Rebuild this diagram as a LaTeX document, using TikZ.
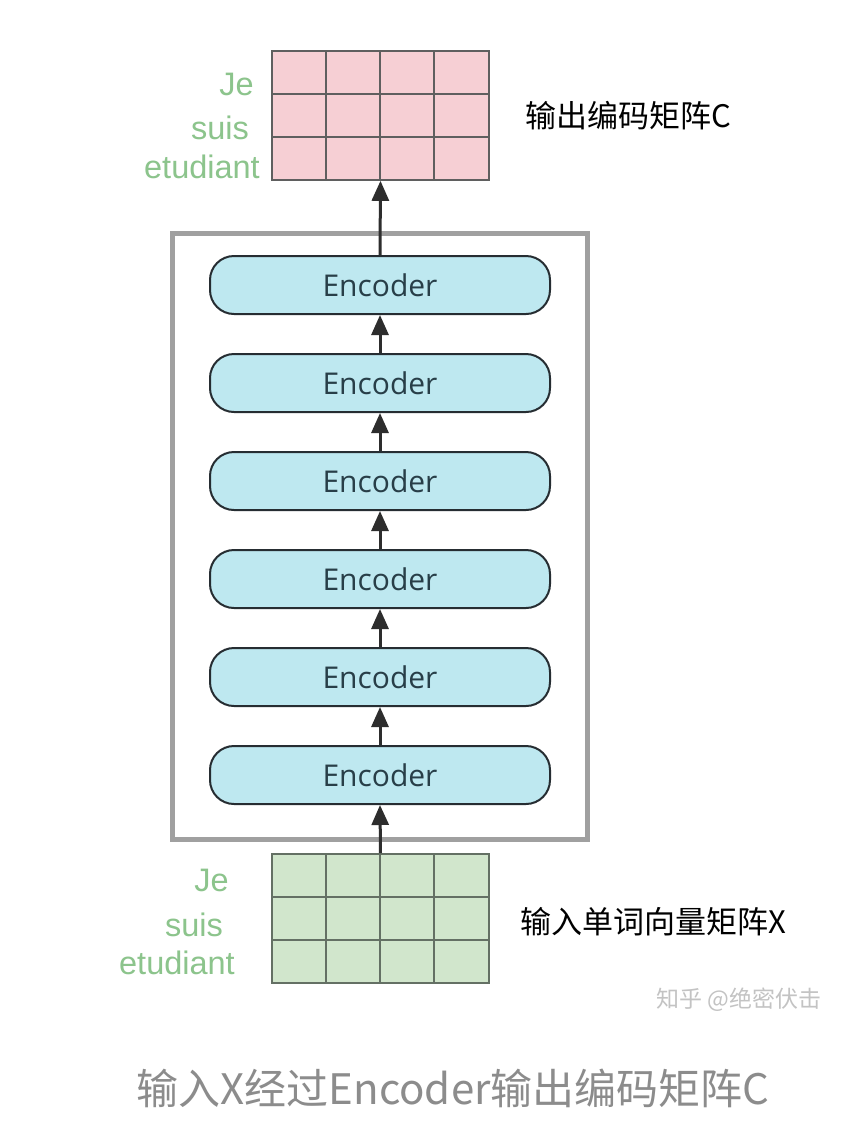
\documentclass[tikz,border=0pt]{standalone}
\usepackage{fontspec}
\setmainfont{Liberation Sans}
\newfontfamily\cjk{Noto Sans CJK SC}
\newfontfamily\encfont{Open Sans}
\usetikzlibrary{arrows.meta}
\definecolor{pinkfill}{RGB}{246,207,212}
\definecolor{greenfill}{RGB}{209,230,204}
\definecolor{gridline}{RGB}{95,95,95}
\definecolor{gridlineg}{RGB}{100,112,100}
\definecolor{encfill}{RGB}{190,232,240}
\definecolor{encline}{RGB}{38,45,50}
\definecolor{enctext}{RGB}{40,62,72}
\definecolor{wordgreen}{RGB}{140,196,140}
\definecolor{framegray}{RGB}{160,160,160}
\definecolor{arrowc}{RGB}{45,45,45}
\definecolor{capgray}{RGB}{140,140,140}
\definecolor{wmgray}{RGB}{195,195,195}
\tikzset{
  encbox/.style={draw=encline, line width=2pt, fill=encfill, rounded corners=24pt,
    minimum width=340pt, minimum height=58pt, inner sep=0pt,
    font=\encfont\fontsize{30}{34}\selectfont, text=enctext},
  matbox/.style={draw=#1, line width=1.6pt, minimum width=217pt, minimum height=129pt, inner sep=0pt},
  word/.style={anchor=east, text=wordgreen, font=\fontsize{32.5}{36}\selectfont, inner sep=0pt},
  arr/.style={draw=arrowc, line width=3pt, -{Triangle[width=17pt,length=20pt]}, arrowc},
  sidelabel/.style={anchor=west, inner sep=0pt, font=\cjk\fontsize{31}{36}\selectfont, text=black}
}
\begin{document}
\begin{tikzpicture}[x=1pt,y=-1pt]
\useasboundingbox[fill=white] (0,0) rectangle (866,1128);

% frame
\node[draw=framegray, line width=5pt, minimum width=415pt, minimum height=606pt, inner sep=0pt] (frame) at (380,536) {};

% output matrix C
\node[matbox=gridline, fill=pinkfill] (C) at (380.5,115.5) {};
\foreach \x in {325.75,380,434.25} \draw[gridline, line width=1.6pt] (\x,51) -- (\x,180);
\foreach \y in {94,137} \draw[gridline, line width=1.6pt] (272,\y) -- (489,\y);

% input matrix X
\node[matbox=gridlineg, fill=greenfill] (X) at (380.5,918.5) {};
\foreach \x in {325.75,380,434.25} \draw[gridlineg, line width=1.6pt] (\x,854) -- (\x,983);
\foreach \y in {897,940} \draw[gridlineg, line width=1.6pt] (272,\y) -- (489,\y);

% words
\node[word] (cj) at (254,84) {Je};
\node[word] (cs) at (249,128) {suis};
\node[word] (ce) at (260,167) {etudiant};
\node[word] (xj) at (229,880) {Je};
\node[word] (xs) at (223,925) {suis};
\node[word] (xe) at (235,963) {etudiant};

% encoders
\node[encbox] (e1) at (380,775) {Encoder};
\node[encbox] (e2) at (380,677) {Encoder};
\node[encbox] (e3) at (380,579) {Encoder};
\node[encbox] (e4) at (380,481) {Encoder};
\node[encbox] (e5) at (380,383) {Encoder};
\node[encbox] (e6) at (380,285) {Encoder};

% arrows
\draw[arr] (X.north) -- (e1.south);
\draw[arr] (e1.north) -- (e2.south);
\draw[arr] (e2.north) -- (e3.south);
\draw[arr] (e3.north) -- (e4.south);
\draw[arr] (e4.north) -- (e5.south);
\draw[arr] (e5.north) -- (e6.south);
\draw[arr] (e6.north) -- (C.south);

% side labels
\node[sidelabel] (lc) at (525,116) {输出编码矩阵C};
\node[sidelabel] (lx) at (520,922) {输入单词向量矩阵X};
\node[anchor=west, inner sep=0pt, font=\cjk\fontsize{23}{26}\selectfont, text=wmgray] (wm) at (656,1000) {知乎 @绝密伏击};

% caption
\node[inner sep=0pt, font=\cjk\fontsize{42}{48}\selectfont, text=capgray] (cap) at (453,1088) {输入X经过Encoder输出编码矩阵C};
\end{tikzpicture}
\end{document}
